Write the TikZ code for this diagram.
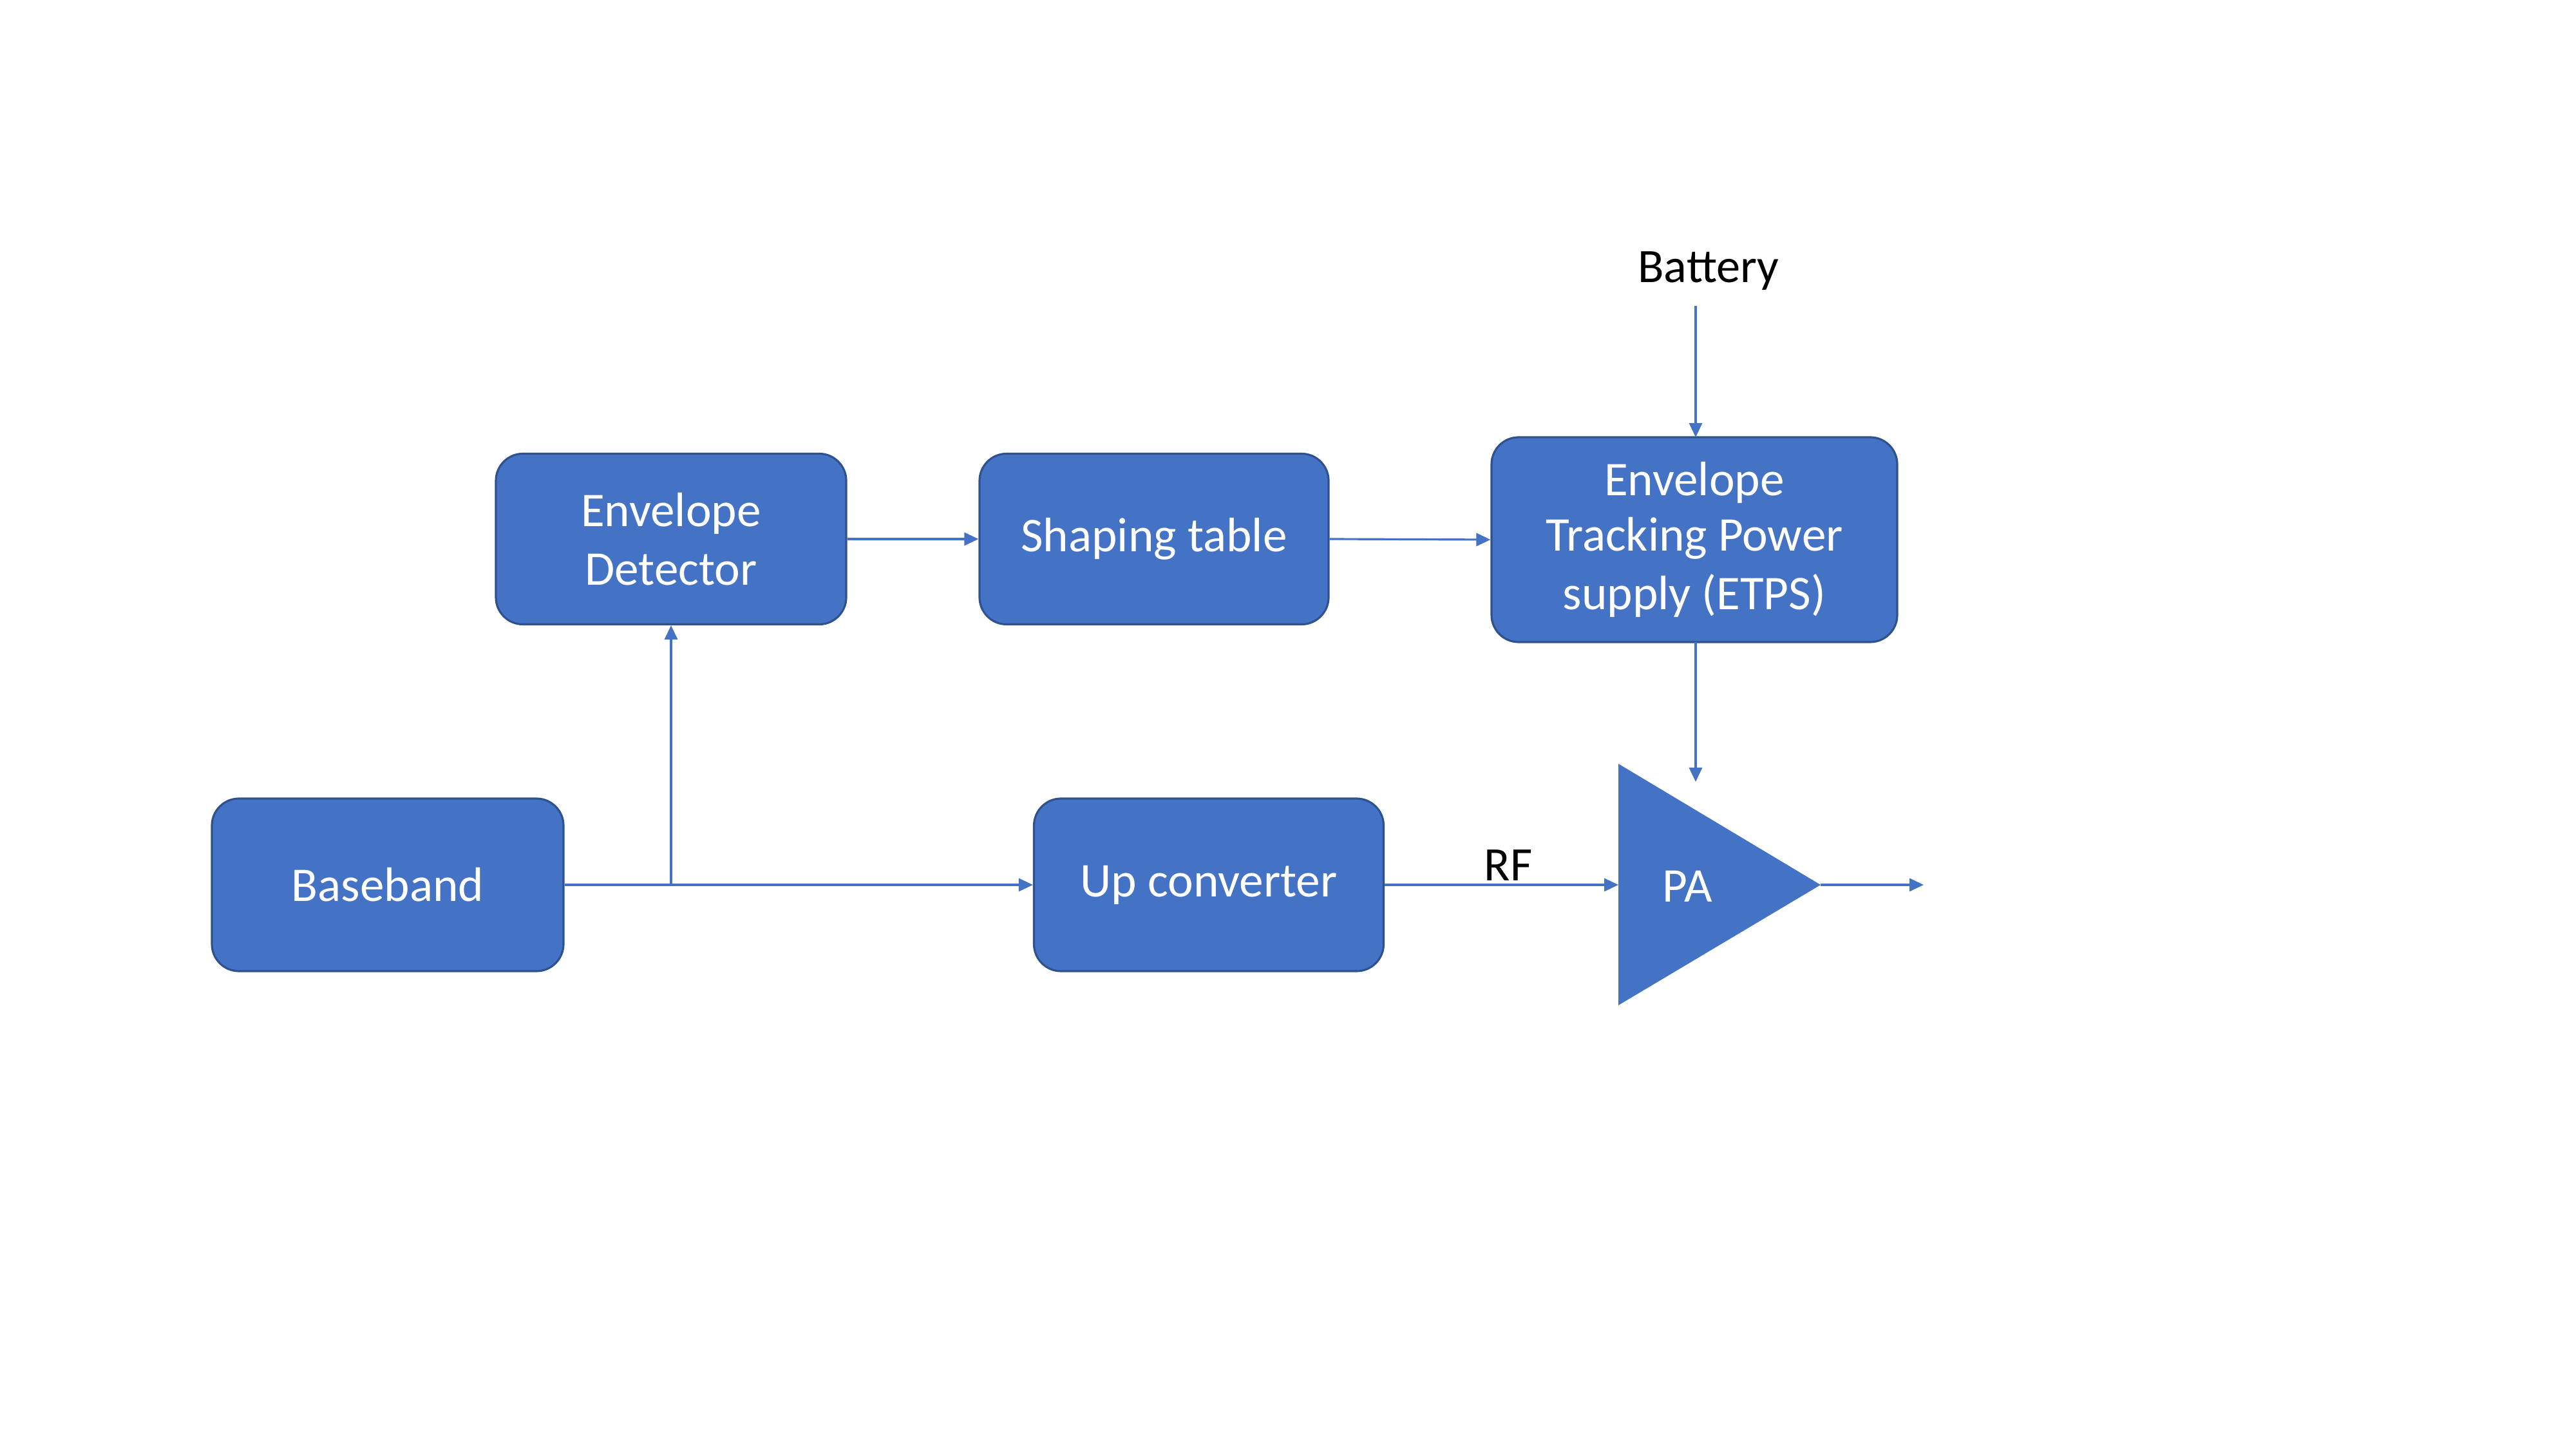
\documentclass[tikz,border=0pt]{standalone}
\usepackage{fontspec}
\setmainfont{Carlito}
\usetikzlibrary{arrows.meta}
\definecolor{boxfill}{HTML}{4472C4}
\definecolor{boxline}{HTML}{2F528F}
\tikzset{
  blockbox/.style={draw=boxline, line width=0.9pt, fill=boxfill, rounded corners=0.42cm,
    text=white, align=center, inner sep=0pt, font=\fontsize{21.4}{25.8}\selectfont},
  conn/.style={draw=boxfill, line width=0.9pt, -{Triangle[length=0.22cm,width=0.2cm]}},
  lbl/.style={font=\fontsize{21.2}{25.8}\selectfont, text=black, inner sep=0pt}
}
\begin{document}
\begin{tikzpicture}
\useasboundingbox (0,0) rectangle (40,-22.5);
\fill[white] (0,0) rectangle (40,-22.5);
% blocks
\node[blockbox, minimum width=5.44cm, minimum height=2.65cm] (ed) at (10.42,-8.37) {Envelope\\Detector};
\node[blockbox, minimum width=5.42cm, minimum height=2.65cm] (st) at (17.92,-8.37) {\raisebox{-0.06cm}{Shaping table}};
\node[blockbox, minimum width=6.30cm, minimum height=3.18cm] (etps) at (26.31,-8.38) {\raisebox{-0.05cm}{Envelope}\\Tracking Power\\supply (ETPS)};
\node[blockbox, minimum width=5.46cm, minimum height=2.68cm] (bb) at (6.02,-13.74) {Baseband};
\node[blockbox, minimum width=5.43cm, minimum height=2.68cm] (uc) at (18.77,-13.74) {\raisebox{-0.06cm}{Up converter}};
% PA triangle
\coordinate (paA) at (25.13,-11.86);
\coordinate (paB) at (25.13,-15.61);
\coordinate (paout) at (28.27,-13.74);
\coordinate (pain) at (25.13,-13.74);
\fill[boxfill] (paA) -- (paout) -- (paB) -- cycle;
\node[text=white, font=\fontsize{21.4}{25.8}\selectfont, inner sep=0pt] (pa) at (26.20,-13.76) {PA};
% labels
\node[lbl] (bat) at (26.53,-4.21) {Battery};
\node[lbl] (rf) at (23.42,-13.44) {RF};
\coordinate (batline) at (26.33,-4.75);
\coordinate (etpsbot) at (26.33,-9.97);
\coordinate (etpstop) at (26.33,-6.79);
\coordinate (pasup) at (26.33,-12.14);
\coordinate (junc) at (10.42,-13.74);
\coordinate (outend) at (29.87,-13.74);
% connectors
\draw[conn] (ed.east) -- (st.west);
\draw[conn] (st.east) -- (etps.west);
\draw[conn] (batline) -- (etpstop);
\draw[conn] (etpsbot) -- (pasup);
\draw[conn] (bb.east) -- (uc.west);
\draw[conn] (junc) -- (ed.south);
\draw[conn] (uc.east) -- (pain);
\draw[conn] (paout) -- (outend);
\end{tikzpicture}
\end{document}
